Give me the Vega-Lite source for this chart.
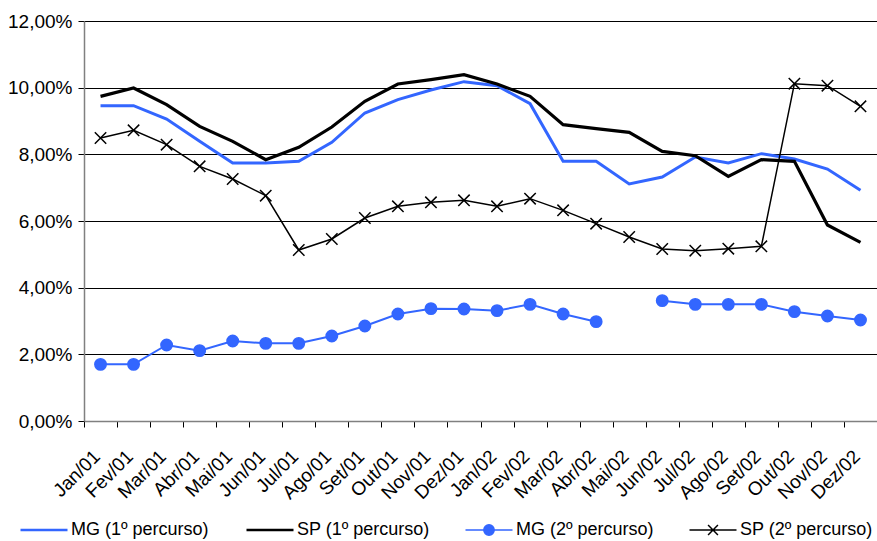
{
  "$schema": "https://vega.github.io/schema/vega-lite/v6.json",
  "autosize": {"type": "none"},
  "width": 793,
  "height": 400,
  "padding": {"left": 84, "top": 21, "right": 0, "bottom": 120},
  "background": "white",
  "config": {
    "view": {"stroke": null},
    "font": "Liberation Sans",
    "axis": {"labelFont": "Liberation Sans", "labelFontSize": 19, "labelColor": "#000000", "title": null},
    "legend": {"labelFont": "Liberation Sans", "labelFontSize": 18, "labelColor": "#000000"}
  },
  "data": {"values": [
    {"m":"Jan/01","s":"MG (1º percurso)","v":9.46},{"m":"Fev/01","s":"MG (1º percurso)","v":9.46},{"m":"Mar/01","s":"MG (1º percurso)","v":9.06},{"m":"Abr/01","s":"MG (1º percurso)","v":8.39},{"m":"Mai/01","s":"MG (1º percurso)","v":7.74},{"m":"Jun/01","s":"MG (1º percurso)","v":7.74},{"m":"Jul/01","s":"MG (1º percurso)","v":7.79},{"m":"Ago/01","s":"MG (1º percurso)","v":8.36},{"m":"Set/01","s":"MG (1º percurso)","v":9.24},{"m":"Out/01","s":"MG (1º percurso)","v":9.64},{"m":"Nov/01","s":"MG (1º percurso)","v":9.93},{"m":"Dez/01","s":"MG (1º percurso)","v":10.18},
    {"m":"Jan/02","s":"MG (1º percurso)","v":10.06},{"m":"Fev/02","s":"MG (1º percurso)","v":9.52},{"m":"Mar/02","s":"MG (1º percurso)","v":7.79},{"m":"Abr/02","s":"MG (1º percurso)","v":7.79},{"m":"Mai/02","s":"MG (1º percurso)","v":7.11},{"m":"Jun/02","s":"MG (1º percurso)","v":7.32},{"m":"Jul/02","s":"MG (1º percurso)","v":7.92},{"m":"Ago/02","s":"MG (1º percurso)","v":7.74},{"m":"Set/02","s":"MG (1º percurso)","v":8.02},{"m":"Out/02","s":"MG (1º percurso)","v":7.86},{"m":"Nov/02","s":"MG (1º percurso)","v":7.56},{"m":"Dez/02","s":"MG (1º percurso)","v":6.92},
    {"m":"Jan/01","s":"SP (1º percurso)","v":9.74},{"m":"Fev/01","s":"SP (1º percurso)","v":9.99},{"m":"Mar/01","s":"SP (1º percurso)","v":9.49},{"m":"Abr/01","s":"SP (1º percurso)","v":8.84},{"m":"Mai/01","s":"SP (1º percurso)","v":8.39},{"m":"Jun/01","s":"SP (1º percurso)","v":7.84},{"m":"Jul/01","s":"SP (1º percurso)","v":8.21},{"m":"Ago/01","s":"SP (1º percurso)","v":8.82},{"m":"Set/01","s":"SP (1º percurso)","v":9.59},{"m":"Out/01","s":"SP (1º percurso)","v":10.11},{"m":"Nov/01","s":"SP (1º percurso)","v":10.24},{"m":"Dez/01","s":"SP (1º percurso)","v":10.39},
    {"m":"Jan/02","s":"SP (1º percurso)","v":10.11},{"m":"Fev/02","s":"SP (1º percurso)","v":9.74},{"m":"Mar/02","s":"SP (1º percurso)","v":8.89},{"m":"Abr/02","s":"SP (1º percurso)","v":8.77},{"m":"Mai/02","s":"SP (1º percurso)","v":8.66},{"m":"Jun/02","s":"SP (1º percurso)","v":8.09},{"m":"Jul/02","s":"SP (1º percurso)","v":7.96},{"m":"Ago/02","s":"SP (1º percurso)","v":7.34},{"m":"Set/02","s":"SP (1º percurso)","v":7.84},{"m":"Out/02","s":"SP (1º percurso)","v":7.79},{"m":"Nov/02","s":"SP (1º percurso)","v":5.88},{"m":"Dez/02","s":"SP (1º percurso)","v":5.36},
    {"m":"Jan/01","s":"MG (2º percurso)","v":1.70},{"m":"Fev/01","s":"MG (2º percurso)","v":1.70},{"m":"Mar/01","s":"MG (2º percurso)","v":2.28},{"m":"Abr/01","s":"MG (2º percurso)","v":2.11},{"m":"Mai/01","s":"MG (2º percurso)","v":2.40},{"m":"Jun/01","s":"MG (2º percurso)","v":2.33},{"m":"Jul/01","s":"MG (2º percurso)","v":2.33},{"m":"Ago/01","s":"MG (2º percurso)","v":2.55},{"m":"Set/01","s":"MG (2º percurso)","v":2.85},{"m":"Out/01","s":"MG (2º percurso)","v":3.21},{"m":"Nov/01","s":"MG (2º percurso)","v":3.37},{"m":"Dez/01","s":"MG (2º percurso)","v":3.36},
    {"m":"Jan/02","s":"MG (2º percurso)","v":3.31},{"m":"Fev/02","s":"MG (2º percurso)","v":3.50},{"m":"Mar/02","s":"MG (2º percurso)","v":3.21},{"m":"Abr/02","s":"MG (2º percurso)","v":2.98},{"m":"Mai/02","s":"MG (2º percurso)","v":null},{"m":"Jun/02","s":"MG (2º percurso)","v":3.61},{"m":"Jul/02","s":"MG (2º percurso)","v":3.50},{"m":"Ago/02","s":"MG (2º percurso)","v":3.50},{"m":"Set/02","s":"MG (2º percurso)","v":3.50},{"m":"Out/02","s":"MG (2º percurso)","v":3.28},{"m":"Nov/02","s":"MG (2º percurso)","v":3.15},{"m":"Dez/02","s":"MG (2º percurso)","v":3.03},
    {"m":"Jan/01","s":"SP (2º percurso)","v":8.49},{"m":"Fev/01","s":"SP (2º percurso)","v":8.72},{"m":"Mar/01","s":"SP (2º percurso)","v":8.29},{"m":"Abr/01","s":"SP (2º percurso)","v":7.64},{"m":"Mai/01","s":"SP (2º percurso)","v":7.26},{"m":"Jun/01","s":"SP (2º percurso)","v":6.76},{"m":"Jul/01","s":"SP (2º percurso)","v":5.13},{"m":"Ago/01","s":"SP (2º percurso)","v":5.46},{"m":"Set/01","s":"SP (2º percurso)","v":6.09},{"m":"Out/01","s":"SP (2º percurso)","v":6.44},{"m":"Nov/01","s":"SP (2º percurso)","v":6.56},{"m":"Dez/01","s":"SP (2º percurso)","v":6.62},
    {"m":"Jan/02","s":"SP (2º percurso)","v":6.44},{"m":"Fev/02","s":"SP (2º percurso)","v":6.67},{"m":"Mar/02","s":"SP (2º percurso)","v":6.32},{"m":"Abr/02","s":"SP (2º percurso)","v":5.92},{"m":"Mai/02","s":"SP (2º percurso)","v":5.52},{"m":"Jun/02","s":"SP (2º percurso)","v":5.16},{"m":"Jul/02","s":"SP (2º percurso)","v":5.11},{"m":"Ago/02","s":"SP (2º percurso)","v":5.17},{"m":"Set/02","s":"SP (2º percurso)","v":5.24},{"m":"Out/02","s":"SP (2º percurso)","v":10.12},{"m":"Nov/02","s":"SP (2º percurso)","v":10.06},{"m":"Dez/02","s":"SP (2º percurso)","v":9.44}
  ]},
  "encoding": {
    "x": {
      "field": "m", "type": "nominal",
      "sort": ["Jan/01","Fev/01","Mar/01","Abr/01","Mai/01","Jun/01","Jul/01","Ago/01","Set/01","Out/01","Nov/01","Dez/01","Jan/02","Fev/02","Mar/02","Abr/02","Mai/02","Jun/02","Jul/02","Ago/02","Set/02","Out/02","Nov/02","Dez/02"],
      "scale": {"type": "band", "paddingInner": 0, "paddingOuter": 0},
      "axis": {"labelAngle": -45, "labelAlign": "right", "labelBaseline": "middle", "labelPadding": 26, "labelOffset": -4, "tickBand": "extent", "tickSize": 6, "tickColor": "#000000", "domainColor": "#808080", "domainWidth": 1.5, "grid": false, "labelOverlap": false}
    },
    "y": {
      "field": "v", "type": "quantitative",
      "scale": {"domain": [0, 12], "nice": false, "zero": true},
      "axis": {"values": [0, 2, 4, 6, 8, 10, 12], "labelExpr": "replace(format(datum.value, '.2f'), '.', ',') + '%'", "grid": true, "gridColor": "#000000", "gridWidth": 1, "gridOpacity": 1, "tickSize": 6, "tickColor": "#000000", "domainColor": "#808080", "domainWidth": 1.5, "labelPadding": 6}
    },
    "stroke": {
      "field": "s", "type": "nominal",
      "scale": {"domain": ["MG (1º percurso)", "SP (1º percurso)", "MG (2º percurso)", "SP (2º percurso)"], "range": ["#3366FF", "#000000", "#3366FF", "#000000"]},
      "legend": {
        "title": null, "orient": "none", "direction": "horizontal", "legendX": -49, "legendY": 500,
        "symbolSize": 2209, "symbolStrokeWidth": 2, "symbolOpacity": 1, "labelOffset": 18, "columnPadding": 32,
        "encode": {"symbols": {"update": {
          "shape": {"signal": "datum.value === 'MG (2º percurso)' ? 'M-1,0H1M0.22,0A0.22,0.22 0 1,1 -0.22,0A0.22,0.22 0 1,1 0.22,0Z' : (datum.value === 'SP (2º percurso)' ? 'M-1,0H1M-0.21,-0.21L0.21,0.21M-0.21,0.21L0.21,-0.21' : 'M-1,0H1')"},
          "fill": {"signal": "datum.value === 'MG (2º percurso)' ? '#3366FF' : 'transparent'"},
          "strokeWidth": {"signal": "(datum.value === 'MG (1º percurso)' || datum.value === 'SP (1º percurso)') ? 2.5 : 1.5"},
          "opacity": {"value": 1}
        }}}
      }
    }
  },
  "layer": [
    {"transform": [{"filter": "datum.s === 'MG (1º percurso)'"}], "mark": {"type": "line", "strokeWidth": 3}},
    {"transform": [{"filter": "datum.s === 'SP (1º percurso)'"}], "mark": {"type": "line", "strokeWidth": 3.2}},
    {"transform": [{"filter": "datum.s === 'MG (2º percurso)'"}], "mark": {"type": "line", "strokeWidth": 2, "invalid": "break-paths-filter-domains"}},
    {"transform": [{"filter": "datum.s === 'SP (2º percurso)'"}], "mark": {"type": "line", "strokeWidth": 1.5}},
    {
      "transform": [{"filter": "(datum.s === 'MG (2º percurso)' || datum.s === 'SP (2º percurso)') && datum.v != null"}],
      "mark": {"type": "point", "filled": true, "opacity": 1, "size": 130, "strokeWidth": 1.5},
      "encoding": {
        "fill": {"field": "s", "type": "nominal", "scale": {"domain": ["MG (2º percurso)", "SP (2º percurso)"], "range": ["#3366FF", "#000000"]}, "legend": null},
        "shape": {"field": "s", "type": "nominal", "scale": {"domain": ["MG (2º percurso)", "SP (2º percurso)"], "range": ["circle", "M-1,-1L1,1M-1,1L1,-1"]}, "legend": null}
      }
    }
  ]
}
